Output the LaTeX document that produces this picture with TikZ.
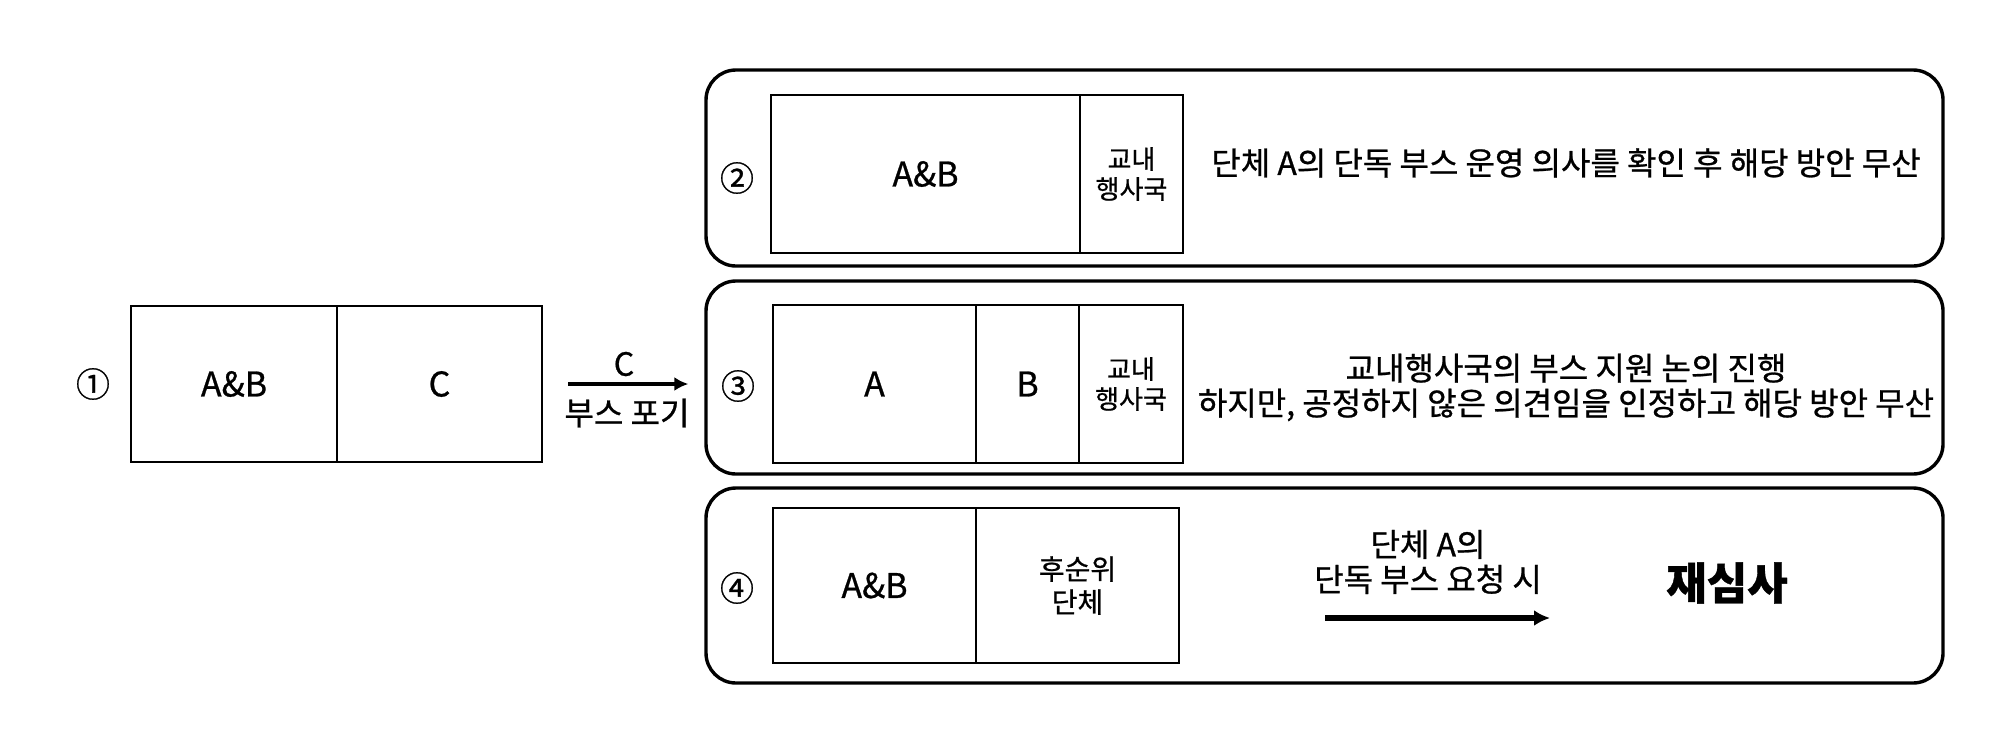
\documentclass[tikz,border=0pt]{standalone}
\usepackage{fontspec}
\setmainfont{Noto Sans CJK KR}[FakeBold=0.8]
\usetikzlibrary{arrows.meta}
\begin{document}
\begin{tikzpicture}[x=0.5pt,y=-0.5pt,
  cell/.style={draw, line width=1.4pt, inner sep=0pt, align=center, font=\fontsize{17}{20}\selectfont},
  panel/.style={draw, line width=1.7pt, rounded corners=15pt, inner sep=0pt, minimum width=618.5pt},
  num/.style={inner sep=0pt, font=\fontsize{17}{19}\selectfont},
  txt/.style={inner sep=0pt, align=center, font=\fontsize{16}{17.5}\selectfont},
  small/.style={font=\fontsize{13}{15}\selectfont},
  arr/.style={line width=2pt, -{Latex[length=7pt,width=7pt]}},
  bigarr/.style={line width=2.6pt, -{Latex[length=8pt,width=8pt]}}
]
\fill[white] (0,0) rectangle (2000,734);
\useasboundingbox (0,0) rectangle (2000,734);

% panels
\node[panel, minimum height=98pt] (p2) at (1324.5,168) {};
\node[panel, minimum height=96.5pt] (p3) at (1324.5,377.5) {};
\node[panel, minimum height=97.5pt] (p4) at (1324.5,585.5) {};

% situation 1
\node[num] (n1) at (93,384) {①};
\node[cell, minimum width=103pt, minimum height=78pt] (b1a) at (234,384) {A\&B};
\node[cell, minimum width=102.5pt, minimum height=78pt] (b1b) at (439.5,384) {C};
\draw[arr, shorten <=12.5pt, shorten >=8pt] (b1b.east) -- (b1b.east -| p3.west);
\node[txt, font=\fontsize{16}{18}\selectfont] (lc) at (624,364) {C};
\node[txt] (lb) at (627,413) {부스 포기};

% situation 2
\node[num] (n2) at (737,178) {②};
\node[cell, minimum width=154.5pt, minimum height=79pt] (b2a) at (925.5,174) {A\&B};
\node[cell, small, minimum width=51.5pt, minimum height=79pt] (b2b) at (1131.5,174) {교내\\행사국};
\node[txt] (t2) at (1566,163) {단체 A의 단독 부스 운영 의사를 확인 후 해당 방안 무산};

% situation 3
\node[num] (n3) at (738,386) {③};
\node[cell, minimum width=101.5pt, minimum height=79pt] (b3a) at (874.5,384) {A};
\node[cell, minimum width=51.5pt, minimum height=79pt] (b3b) at (1027.5,384) {B};
\node[cell, small, minimum width=52pt, minimum height=79pt] (b3c) at (1131,384) {교내\\행사국};
\node[txt] (t3) at (1566,387.5) {교내행사국의 부스 지원 논의 진행\\하지만, 공정하지 않은 의견임을 인정하고 해당 방안 무산};

% situation 4
\node[num] (n4) at (737,588) {④};
\node[cell, minimum width=101.5pt, minimum height=77.5pt] (b4a) at (874.5,585.5) {A\&B};
\node[cell, font=\fontsize{14}{16.5}\selectfont, minimum width=101.5pt, minimum height=77.5pt] (b4b) at (1077.5,585.5) {후순위\\단체};
\node[txt] (t4) at (1428,562) {단체 A의\\단독 부스 요청 시};
\coordinate (a4s) at (1325,618);
\coordinate (a4e) at (1550,618);
\draw[bigarr] (a4s) -- (a4e);
\node[inner sep=0pt, font=\bfseries\fontsize{22}{24}\selectfont] (t5) at (1727,583) {재심사};
\end{tikzpicture}
\end{document}
